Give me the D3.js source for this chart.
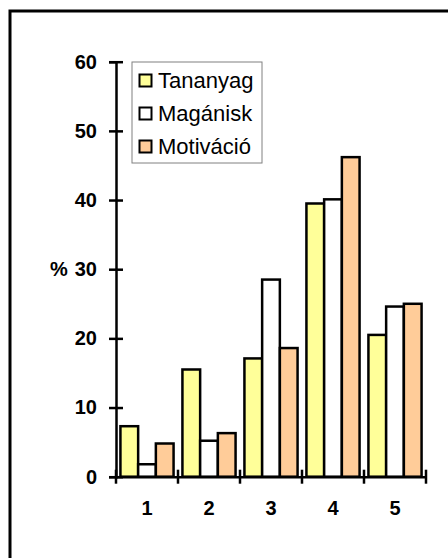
<!DOCTYPE html>
<meta charset="utf-8">
<style>
  body { margin: 0; background: #fff; }
  svg { display: block; font-family: Arial, "Liberation Sans", sans-serif; }
</style>
<script src="https://d3js.org/d3.v7.min.js"></script>
<div id="chart"></div>
<script>
// data
var categories = ["1", "2", "3", "4", "5"];
var seriesNames = ["Tananyag", "Magánisk", "Motiváció"];
var tananyag = [7.3, 15.5, 17.1, 39.5, 20.5];
var maganisk = [1.8, 5.2, 28.5, 40.1, 24.6];
var motivacio = [4.8, 6.3, 18.6, 46.2, 25.0];
var yTicks = [0, 10, 20, 30, 40, 50, 60];
var colors = ["#ffff99", "#ffffff", "#ffcc99"];

var data = categories.map(function(c, i) {
  return {cat: c, values: [tananyag[i], maganisk[i], motivacio[i]]};
});

var W = 448, H = 558;
var svg = d3.select("#chart").append("svg")
    .attr("width", W)
    .attr("height", H);

// outer frame (runs off the right and bottom)
svg.append("rect")
    .attr("x", 10).attr("y", 11)
    .attr("width", 600).attr("height", 700)
    .attr("fill", "none")
    .attr("stroke", "#000")
    .attr("stroke-width", 3);

var x0 = 116, x1 = 426, yTop = 61.7, yBase = 476.7;

var x = d3.scaleBand()
    .domain(categories)
    .range([x0, x1])
    .padding(0);

var xs = d3.scaleBand()
    .domain(d3.range(seriesNames.length))
    .range([0, x.bandwidth()])
    .paddingInner(0)
    .paddingOuter(0.25);

var y = d3.scaleLinear()
    .domain([0, 60])
    .range([yBase, yTop]);

// bars
var groups = svg.append("g").selectAll("g")
  .data(data)
  .enter().append("g")
    .attr("transform", function(d) { return "translate(" + x(d.cat) + ",0)"; });

groups.selectAll("rect")
  .data(function(d) { return d.values; })
  .enter().append("rect")
    .attr("x", function(d, i) { return xs(i); })
    .attr("y", function(d) { return y(d); })
    .attr("width", xs.bandwidth())
    .attr("height", function(d) { return yBase - y(d); })
    .attr("fill", function(d, i) { return colors[i]; })
    .attr("stroke", "#000")
    .attr("stroke-width", 2.5);

// y axis
var yAxis = svg.append("g")
    .attr("transform", "translate(" + x0 + ",0)")
    .call(d3.axisLeft(y).tickValues(yTicks).tickSize(7).tickPadding(12));
yAxis.select(".domain").attr("stroke-width", 2.5);
yAxis.selectAll(".tick line").attr("x1", 7).attr("stroke-width", 2.5);
yAxis.selectAll(".tick text")
    .style("font-size", "20px")
    .style("font-weight", "bold")
    .style("font-family", "Arial, 'Liberation Sans', sans-serif")
    .attr("fill", "#000");

svg.append("text")
    .attr("x", 50).attr("y", y(30))
    .attr("dy", "0.35em")
    .style("font-size", "20px")
    .style("font-weight", "bold")
    .text("%");

// x axis
var xAxis = svg.append("g")
    .attr("transform", "translate(0," + yBase + ")")
    .call(d3.axisBottom(x).tickSize(0).tickPadding(24));
xAxis.select(".domain").attr("stroke-width", 2.5);
xAxis.selectAll(".tick text")
    .style("font-size", "20px")
    .style("font-weight", "bold")
    .style("font-family", "Arial, 'Liberation Sans', sans-serif")
    .attr("fill", "#000");

// x tick marks sit between the categories
var bounds = categories.map(function(c) { return x(c); }).concat([x1]);
svg.append("g").selectAll("line")
  .data(bounds)
  .enter().append("line")
    .attr("x1", function(d) { return d; })
    .attr("x2", function(d) { return d; })
    .attr("y1", yBase - 7)
    .attr("y2", yBase + 7)
    .attr("stroke", "#000")
    .attr("stroke-width", 2.5);

// legend
var legend = svg.append("g").attr("transform", "translate(132,62)");
legend.append("rect")
    .attr("width", 130).attr("height", 101)
    .attr("fill", "#fff")
    .attr("stroke", "#808080")
    .attr("stroke-width", 1);

var items = legend.selectAll("g.item")
  .data(seriesNames)
  .enter().append("g")
    .attr("class", "item")
    .attr("transform", function(d, i) { return "translate(0," + (18 + i * 33) + ")"; });

items.append("rect")
    .attr("x", 7.5).attr("y", -5.5)
    .attr("width", 12).attr("height", 12)
    .attr("fill", function(d, i) { return colors[i]; })
    .attr("stroke", "#000")
    .attr("stroke-width", 2);

items.append("text")
    .attr("x", 26)
    .attr("dy", "0.36em")
    .style("font-size", "22px")
    .text(function(d) { return d; });
</script>
